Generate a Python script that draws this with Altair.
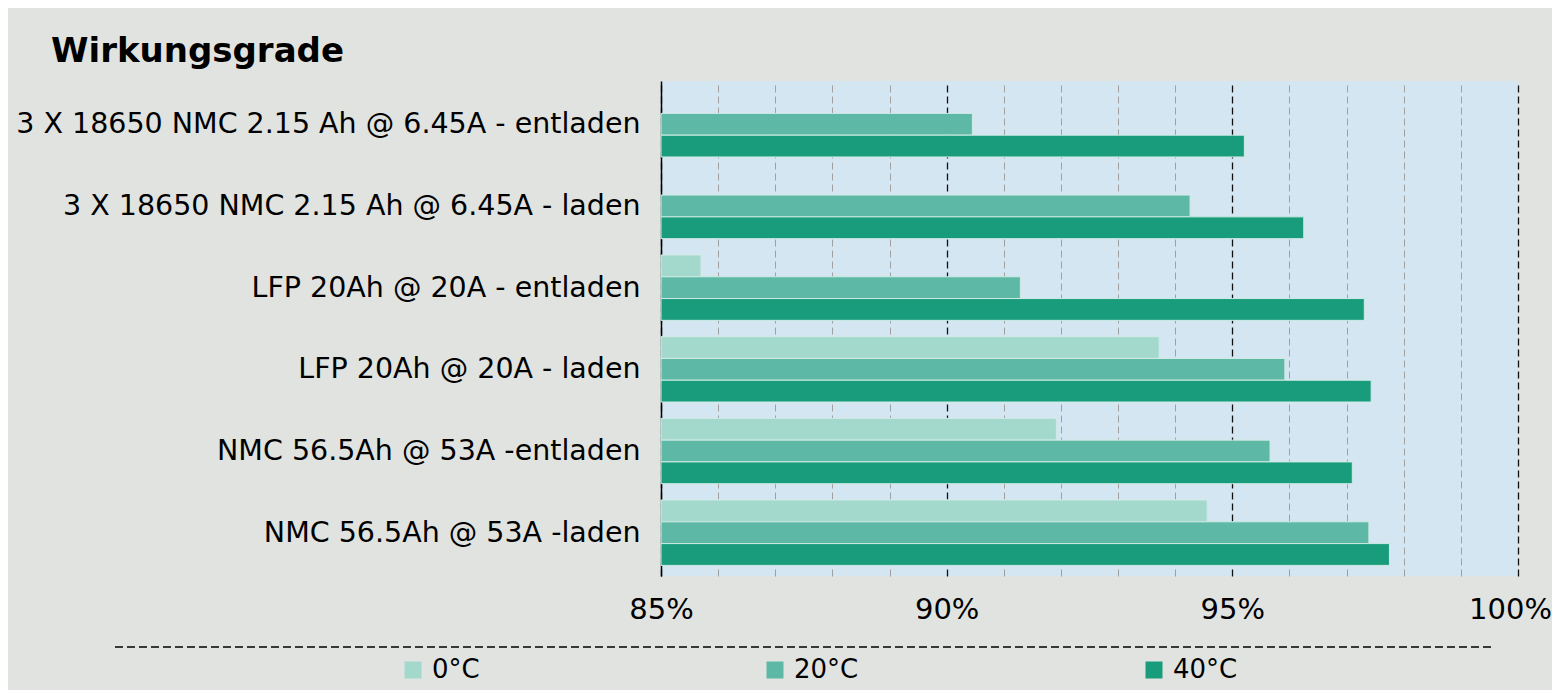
import altair as alt
import pandas as pd

categories = [
    "3 X 18650 NMC 2.15 Ah @ 6.45A - entladen",
    "3 X 18650 NMC 2.15 Ah @ 6.45A - laden",
    "LFP 20Ah @ 20A - entladen",
    "LFP 20Ah @ 20A - laden",
    "NMC 56.5Ah @ 53A -entladen",
    "NMC 56.5Ah @ 53A -laden",
]
temps = ["0°C", "20°C", "40°C"]
t0 = [None, None, 85.70, 93.72, 91.92, 94.56]
t20 = [90.45, 94.26, 91.29, 95.92, 95.66, 97.39]
t40 = [95.21, 96.25, 97.31, 97.43, 97.10, 97.75]
colors = ["#a3d9cc", "#5db9a6", "#189c7c"]
ticks = list(range(85, 101))

rows = []
for series, t in zip([t0, t20, t40], temps):
    for c, v in zip(categories, series):
        if v is not None:
            rows.append({"cat": c, "temp": t, "value": v})
df = pd.DataFrame(rows)

FONT = "DejaVu Sans"

bars = alt.Chart(df).mark_bar(stroke="#d0ebe4", strokeWidth=1).encode(
    y=alt.Y("cat:N", sort=categories, title=None,
            scale=alt.Scale(paddingInner=0.2, paddingOuter=0.13),
            axis=alt.Axis(labelFont=FONT, labelFontSize=28.5, labelColor="black",
                          labelPadding=21, ticks=False, domainColor="black",
                          domainWidth=1.5, labelLimit=700)),
    yOffset=alt.YOffset("temp:N", sort=temps,
                        scale=alt.Scale(paddingInner=0, paddingOuter=0)),
    x=alt.X("value:Q", title=None,
            scale=alt.Scale(domain=[85, 100], nice=False, zero=False),
            axis=alt.Axis(values=ticks,
                          labelExpr="datum.value % 5 === 0 ? datum.value + '%' : ''",
                          labelFont=FONT, labelFontSize=29, labelColor="black",
                          labelPadding=19, ticks=False, domain=False,
                          labelOffset={"condition": {"test": "datum.value === 100", "value": -8}, "value": 0},
                          grid=True,
                          gridColor={"condition": {"test": "datum.value % 5 === 0", "value": "#111111"}, "value": "#a0a0a0"},
                          gridWidth={"condition": {"test": "datum.value % 5 === 0", "value": 1.3}, "value": 1},
                          gridDash=[7, 4], labelFlush=False)),
    x2=alt.datum(85),
    color=alt.Color("temp:N", sort=temps, scale=alt.Scale(domain=temps, range=colors),
                    legend=alt.Legend(orient="none", legendX=-261, legendY=576,
                                      direction="horizontal", title=None, padding=0,
                                      symbolType="square", symbolSize=289,
                                      symbolStrokeWidth=0,
                                      labelFont=FONT, labelFontSize=26,
                                      labelColor="black", columnPadding=282,
                                      labelOffset=6)),
)

sep = alt.Chart(pd.DataFrame({"a": [0]})).mark_rule(
    color="#383838", strokeDash=[8, 4], strokeWidth=2
).encode(x=alt.value(-546), x2=alt.value(831), y=alt.value(566))

chart = alt.layer(bars, sep).properties(
    width=857, height=495,
    background="#e1e3e1",
    autosize=alt.AutoSizeParams(type="none"),
    padding={"left": 653, "top": 73, "right": 34, "bottom": 114},
    title=alt.TitleParams("Wirkungsgrade", anchor="start", frame="group",
                          font=FONT, fontSize=34, fontWeight="bold",
                          color="black", offset=12, dx=-610),
).configure_view(fill="#d5e6f3", stroke=None)

chart.save("out.html", embed_options={"renderer": "svg", "actions": False})
